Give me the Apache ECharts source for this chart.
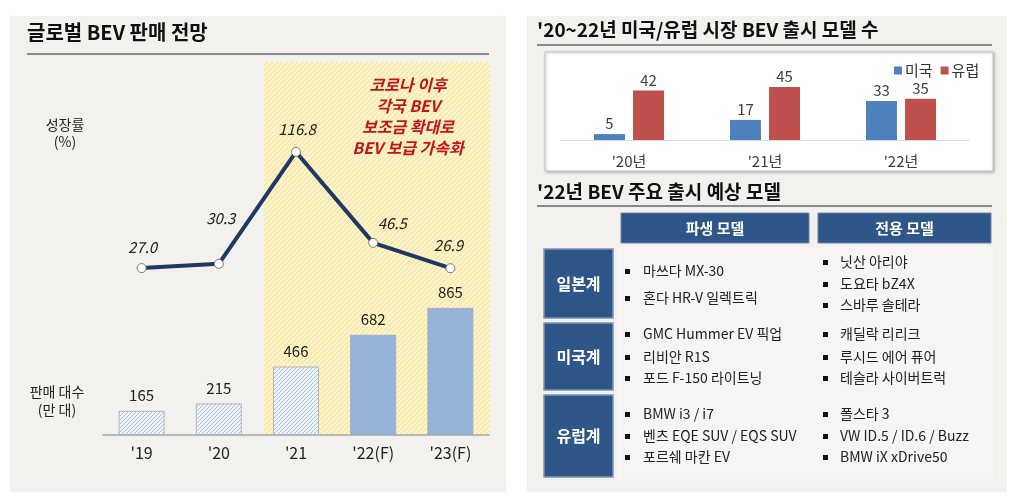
<!DOCTYPE html>
<html><head><meta charset="utf-8">
<script src="https://cdn.jsdelivr.net/npm/echarts@6/dist/echarts.min.js"></script>
<style>html,body{margin:0;padding:0;background:#fff;}#c{width:1024px;height:499px;}</style>
</head><body><div id="c"></div>
<script>
// ---- data ----
const leftCats = ["'19", "'20", "'21", "'22(F)", "'23(F)"];
const salesValues = [165, 215, 466, 682, 865];
const growthValues = [27.0, 30.3, 116.8, 46.5, 26.9];
const forecastFlags = [false, false, false, true, true];
const modelCats = ["'20년", "'21년", "'22년"];
const usModels = [5, 17, 33];
const euModels = [42, 45, 35];
const tableCols = ['파생 모델', '전용 모델'];
const tableRows = ['일본계', '미국계', '유럽계'];
const derivedModels = [
  ['마쓰다 MX-30', '혼다 HR-V 일렉트릭'],
  ['GMC Hummer EV 픽업', '리비안 R1S', '포드 F-150 라이트닝'],
  ['BMW i3 / i7', '벤츠 EQE SUV / EQS SUV', '포르쉐 마칸 EV']
];
const dedicatedModels = [
  ['닛산 아리야', '도요타 bZ4X', '스바루 솔테라'],
  ['캐딜락 리리크', '루시드 에어 퓨어', '테슬라 사이버트럭'],
  ['폴스타 3', 'VW ID.5 / ID.6 / Buzz', 'BMW iX xDrive50']
];

// ---- styles ----
const FONT = '"Noto Sans CJK KR", "Noto Sans", sans-serif';
const lineLabelOffsets = [[1, 0], [2, -25], [1, -2], [19, 1], [-2, -2]];

function hatch(bg, fg, size, lw) {
  const c = document.createElement('canvas');
  c.width = size; c.height = size;
  const g = c.getContext('2d');
  g.fillStyle = bg; g.fillRect(0, 0, size, size);
  g.strokeStyle = fg; g.lineWidth = lw;
  g.beginPath();
  g.moveTo(0, size); g.lineTo(size, 0);
  g.moveTo(-size / 2, size / 2); g.lineTo(size / 2, -size / 2);
  g.moveTo(size / 2, size * 1.5); g.lineTo(size * 1.5, size / 2);
  g.stroke();
  return c;
}
const yellowPat = { image: hatch('#fcf3c8', '#f3df94', 5, 1), repeat: 'repeat' };
const barPat = { image: hatch('#f1f5fb', '#a8bfe0', 4, 1), repeat: 'repeat' };

const chart = echarts.init(document.getElementById('c'));

const graphics = [];
// panels
graphics.push({ type: 'rect', shape: { x: 10, y: 16, width: 496, height: 476 }, style: { fill: '#f3f1ed' }, z: -20 });
graphics.push({ type: 'rect', shape: { x: 527, y: 16, width: 480, height: 476 }, style: { fill: '#f3f1ed' }, z: -20 });
// yellow highlight band
graphics.push({ type: 'rect', shape: { x: 264, y: 62, width: 226, height: 373 }, style: { fill: yellowPat }, z: -10 });
// titles
graphics.push({ type: 'text', style: { text: '글로벌 BEV 판매 전망', x: 27, y: 32, font: 'bold 20px ' + FONT, fill: '#111', textVerticalAlign: 'middle' } });
graphics.push({ type: 'rect', shape: { x: 27, y: 53, width: 462, height: 2 }, style: { fill: '#8a8a8a' } });
graphics.push({ type: 'text', style: { text: "'20~22년 미국/유럽 시장 BEV 출시 모델 수", x: 537, y: 30, font: 'bold 19px ' + FONT, fill: '#111', textVerticalAlign: 'middle' } });
graphics.push({ type: 'rect', shape: { x: 537, y: 44, width: 455, height: 2 }, style: { fill: '#8a8a8a' } });
graphics.push({ type: 'text', style: { text: "'22년 BEV 주요 출시 예상 모델", x: 537, y: 192, font: 'bold 19px ' + FONT, fill: '#111', textVerticalAlign: 'middle' } });
graphics.push({ type: 'rect', shape: { x: 537, y: 205, width: 455, height: 2 }, style: { fill: '#8a8a8a' } });
// white box behind right chart
graphics.push({ type: 'rect', shape: { x: 545, y: 52, width: 448, height: 119 }, style: { fill: '#fff', stroke: '#c4c4c4', lineWidth: 1, shadowBlur: 3, shadowColor: 'rgba(0,0,0,0.25)', shadowOffsetX: 1, shadowOffsetY: 1 }, z: -5 });
// axis titles left
graphics.push({ type: 'text', style: { text: '성장률\n(%)', x: 65, y: 133, font: '14px ' + FONT, fill: '#222', textAlign: 'center', textVerticalAlign: 'middle', lineHeight: 17 } });
graphics.push({ type: 'text', style: { text: '판매 대수\n(만 대)', x: 57, y: 401, font: '14px ' + FONT, fill: '#222', textAlign: 'center', textVerticalAlign: 'middle', lineHeight: 18 } });
// annotation
graphics.push({ type: 'text', style: { text: '코로나 이후\n각국 BEV\n보조금 확대로\nBEV 보급 가속화', x: 408, y: 116, font: 'italic bold 16px ' + FONT, fill: '#c0141c', textAlign: 'center', textVerticalAlign: 'middle', lineHeight: 21 } });

// table
const colBoxes = [{ x: 621, w: 188 }, { x: 818, w: 173 }];
tableCols.forEach((t, i) => {
  graphics.push({ type: 'rect', shape: { x: colBoxes[i].x, y: 213, width: colBoxes[i].w, height: 30 }, style: { fill: '#2f5688', stroke: '#6d86a8', lineWidth: 1 } });
  graphics.push({ type: 'text', style: { text: t, x: colBoxes[i].x + colBoxes[i].w / 2, y: 228, font: 'bold 15px ' + FONT, fill: '#fff', textAlign: 'center', textVerticalAlign: 'middle' } });
});
const rowBoxes = [{ y: 249, h: 69 }, { y: 323, h: 67 }, { y: 395, h: 82 }];
const rowLineYs = [
  [[271, 298], [262, 284, 305]],
  [[334, 357, 378], [334, 357, 378]],
  [[414, 436, 457], [414, 436, 457]]
];
graphics.push({ type: 'rect', shape: { x: 617, y: 247, width: 376, height: 232 }, style: { fill: '#f6f5f3' }, z: -8 });
tableRows.forEach((t, i) => {
  const b = rowBoxes[i];
  graphics.push({ type: 'rect', shape: { x: 544, y: b.y, width: 69, height: b.h }, style: { fill: '#2f5688', stroke: '#7e92ae', lineWidth: 1.5 } });
  graphics.push({ type: 'text', style: { text: t, x: 578.5, y: b.y + b.h / 2, font: 'bold 16px ' + FONT, fill: '#fff', textAlign: 'center', textVerticalAlign: 'middle' } });
  [derivedModels[i], dedicatedModels[i]].forEach((list, c) => {
    const bx = c === 0 ? 627 : 825;
    const tx = c === 0 ? 643 : 840;
    list.forEach((item, k) => {
      const y = rowLineYs[i][c][k];
      graphics.push({ type: 'rect', shape: { x: bx - 2, y: y - 2, width: 5, height: 5 }, style: { fill: '#111' } });
      graphics.push({ type: 'text', style: { text: item, x: tx, y: y, font: '14px ' + FONT, fill: '#222', textVerticalAlign: 'middle' } });
    });
  });
});

const barData = salesValues.map((v, i) => forecastFlags[i]
  ? { value: v, itemStyle: { color: '#95b2d8', borderColor: '#9fb0c6', borderWidth: 1 } }
  : { value: v, itemStyle: { color: barPat, borderColor: '#b4b4b4', borderWidth: 1 } });

const lineData = growthValues.map((v, i) => ({
  value: v,
  label: { offset: lineLabelOffsets[i] }
}));

chart.setOption({
  animation: false,
  textStyle: { fontFamily: FONT },
  graphic: graphics,
  grid: [
    { left: 103, width: 386, top: 288, height: 147 },
    { left: 103, width: 386, top: 109, height: 194 },
    { left: 561, width: 408, top: 81, height: 59 }
  ],
  legend: {
    data: ['미국', '유럽'], left: 889, top: 58, itemWidth: 8, itemHeight: 8, itemGap: 8,
    icon: 'rect', textStyle: { fontSize: 15, color: '#333', fontFamily: FONT, padding: [0, 0, 0, -2] }
  },
  xAxis: [
    { type: 'category', gridIndex: 0, data: leftCats, axisLine: { lineStyle: { color: '#a6a6a6', width: 1.5 } }, axisTick: { show: false },
      axisLabel: { fontSize: 16, color: '#222', margin: 10 } },
    { type: 'category', gridIndex: 1, data: leftCats, show: false },
    { type: 'category', gridIndex: 2, data: modelCats, axisLine: { lineStyle: { color: '#d9d9d9' } }, axisTick: { show: false },
      axisLabel: { fontSize: 15, color: '#404040', margin: 14 } }
  ],
  yAxis: [
    { type: 'value', gridIndex: 0, min: 0, max: 1000, show: false, splitLine: { show: false } },
    { type: 'value', gridIndex: 1, min: 0, max: 150, show: false, splitLine: { show: false } },
    { type: 'value', gridIndex: 2, min: 0, max: 50, show: false, splitLine: { show: false } }
  ],
  series: [
    { type: 'bar', xAxisIndex: 0, yAxisIndex: 0, data: barData, barWidth: 46,
      label: { show: true, position: 'top', distance: 8, fontSize: 15, color: '#222' } },
    { type: 'line', xAxisIndex: 1, yAxisIndex: 1, data: lineData, z: 5,
      lineStyle: { color: '#1f3864', width: 4 }, symbol: 'circle', symbolSize: 9,
      itemStyle: { color: '#fff', borderColor: '#7a7a7a', borderWidth: 1 },
      label: { show: true, position: 'top', distance: 8, fontSize: 15, fontStyle: 'italic', color: '#222',
        formatter: p => p.value.toFixed(1) } },
    { name: '미국', type: 'bar', xAxisIndex: 2, yAxisIndex: 2, data: usModels, barWidth: 31, barGap: '26%',
      itemStyle: { color: '#4f81bd' }, label: { show: true, position: 'top', distance: 3, fontSize: 15, color: '#404040' } },
    { name: '유럽', type: 'bar', xAxisIndex: 2, yAxisIndex: 2, data: euModels, barWidth: 31, barGap: '26%',
      itemStyle: { color: '#c0504d' }, label: { show: true, position: 'top', distance: 3, fontSize: 15, color: '#404040' } }
  ]
});
</script></body></html>
